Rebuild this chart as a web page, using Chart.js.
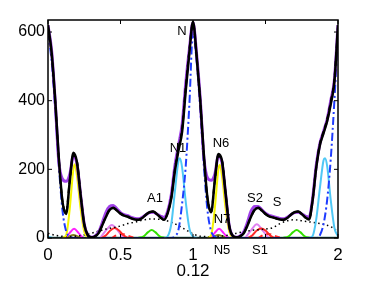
<!DOCTYPE html>
<html>
<head>
<meta charset="utf-8">
<script src="https://cdn.jsdelivr.net/npm/chart.js@4/dist/chart.umd.min.js"></script>
<style>
  html, body { margin: 0; padding: 0; background: #fff; }
  #wrap { width: 374px; height: 281px; }
</style>
</head>
<body>
<div id="wrap"><canvas id="chart" width="374" height="281"></canvas></div>
<script>
// shared x grid for the big curves
const xGrid = [0, 0.025, 0.05, 0.075, 0.1, 0.125, 0.15, 0.175, 0.2, 0.225,
  0.25, 0.275, 0.3, 0.325, 0.35, 0.375, 0.4, 0.425, 0.45, 0.475,
  0.5, 0.525, 0.55, 0.575, 0.6, 0.625, 0.65, 0.675, 0.7, 0.725,
  0.75, 0.775, 0.8, 0.825, 0.85, 0.875, 0.9, 0.925, 0.95, 0.975,
  1, 1.025, 1.05, 1.075, 1.1, 1.125, 1.15, 1.175, 1.2, 1.225,
  1.25, 1.275, 1.3, 1.325, 1.35, 1.375, 1.4, 1.425, 1.45, 1.475,
  1.5, 1.525, 1.55, 1.575, 1.6, 1.625, 1.65, 1.675, 1.7, 1.725,
  1.75, 1.775, 1.8, 1.825, 1.85, 1.875, 1.9, 1.925, 1.95, 1.975, 2];

const totalY = [620, 540, 400, 230, 105, 70, 165, 248, 220, 125,
  40, 8, 2, 5, 15, 38, 62, 82, 88, 80,
  71, 65, 62, 57, 54, 53, 58, 68, 75, 77,
  70, 60, 53, 72, 115, 195, 255, 310, 430, 540,
  630, 530, 400, 240, 115, 75, 165, 245, 225, 130,
  35, 6, 2, 5, 14, 36, 62, 82, 88, 80,
  70, 63, 60, 57, 54, 53, 58, 68, 75, 77,
  70, 60, 54, 110, 205, 270, 305, 340, 390, 455, 620];

const fitY = [615, 535, 395, 228, 108, 74, 168, 240, 222, 126,
  40, 8, 2, 5, 15, 38, 63, 83, 87, 80,
  71, 65, 62, 57, 54, 53, 58, 68, 75, 77,
  70, 60, 54, 73, 118, 200, 262, 318, 440, 548,
  625, 528, 398, 238, 116, 76, 166, 238, 226, 130,
  35, 6, 2, 5, 14, 36, 62, 82, 87, 80,
  70, 63, 60, 57, 54, 53, 58, 68, 75, 77,
  70, 60, 55, 112, 208, 274, 310, 346, 398, 462, 615];

const purpleY = [620, 545, 395, 220, 172, 165, 185, 238, 215, 125,
  40, 8, 2, 6, 18, 45, 75, 92, 95, 85,
  74, 68, 65, 60, 57, 56, 60, 68, 74, 75,
  70, 64, 60, 78, 125, 210, 270, 330, 450, 550,
  628, 535, 405, 235, 175, 168, 185, 238, 220, 128,
  35, 6, 2, 6, 18, 45, 78, 92, 92, 82,
  72, 66, 63, 60, 57, 56, 60, 68, 74, 75,
  70, 64, 60, 115, 212, 275, 310, 345, 400, 460, 620];

const blueY = [600, 515, 375, 210, 80, 20, 4, 0, 0, 0,
  0, 0, 0, 0, 0, 0, 0, 0, 0, 0,
  0, 0, 0, 0, 0, 0, 0, 0, 0, 0,
  0, 0, 0, 0, 0, 5, 25, 100, 210, 390,
  600, 515, 375, 210, 80, 20, 4, 0, 0, 0,
  0, 0, 0, 0, 0, 0, 0, 0, 0, 0,
  0, 0, 0, 0, 0, 0, 0, 0, 0, 0,
  0, 0, 0, 0, 0, 8, 40, 110, 230, 400, 600];

const dotX = [0, 0.05, 0.1, 0.15, 0.2, 0.25, 0.3, 0.35, 0.4, 0.45, 0.5, 0.55, 0.6, 0.65, 0.7,
  0.75, 0.8, 0.85, 0.9, 0.95, 1, 1.05, 1.1, 1.15, 1.2, 1.25, 1.3, 1.35, 1.4, 1.45, 1.5,
  1.55, 1.6, 1.65, 1.7, 1.75, 1.8, 1.85, 1.9, 1.95, 2];
const dotY = [14, 8, 5, 4, 6, 9, 14, 20, 26, 30, 35, 42, 46, 52, 55,
  55, 52, 46, 36, 24, 12, 5, 4, 4, 6, 9, 14, 18, 22, 24, 26,
  30, 42, 50, 53, 50, 47, 44, 40, 33, 18];

const yellowX = [0.1, 0.125, 0.15, 0.175, 0.185, 0.2, 0.225, 0.25, 0.275, 0.7,
  1.1, 1.125, 1.15, 1.175, 1.185, 1.2, 1.225, 1.25, 1.275];
const yellowY = [0, 8, 85, 200, 215, 180, 85, 18, 0, null,
  0, 8, 85, 200, 213, 180, 85, 18, 0];

const cyanX = [0, 0.03, 0.4, 0.8, 0.825, 0.85, 0.875, 0.9, 0.91, 0.925, 0.95, 0.975, 1, 1.03, 1.4,
  1.8, 1.825, 1.85, 1.875, 1.9, 1.91, 1.925, 1.95, 1.975, 2];
const cyanY = [4, 0, null, 0, 5, 40, 135, 225, 232, 205, 105, 28, 4, 0, null,
  0, 6, 55, 145, 226, 232, 210, 110, 30, 5];

const greenX = [0.62, 0.66, 0.69, 0.715, 0.74, 0.77, 0.81, 1.2, 1.62, 1.66, 1.69, 1.715, 1.74, 1.77, 1.81];
const greenY = [0, 5, 17, 23, 17, 5, 0, null, 0, 5, 17, 23, 17, 5, 0];

const oliveX = [0.1, 0.14, 0.175, 0.21, 0.25, 0.7, 1.1, 1.14, 1.175, 1.21, 1.25];
const oliveY = [0, 4, 9, 4, 0, null, 0, 4, 9, 4, 0];

const redX = [0.37, 0.4, 0.43, 0.46, 0.49, 0.52, 0.55, 1, 1.38, 1.41, 1.44, 1.47, 1.5, 1.53, 1.56];
const redY = [0, 8, 22, 29, 22, 8, 0, null, 0, 8, 22, 28, 22, 8, 0];

const redDashX = [0.44, 0.48, 0.51, 0.55, 0.59, 1, 1.45, 1.49, 1.52, 1.56, 1.6];
const redDashY = [0, 10, 12, 7, 1, null, 0, 10, 12, 7, 1];

const pinkX = [0.12, 0.15, 0.18, 0.21, 0.24, 0.7, 1.12, 1.15, 1.18, 1.21, 1.24];
const pinkY = [0, 15, 27, 15, 0, null, 0, 15, 27, 15, 0];

const violetX = [0.36, 0.4, 0.44, 0.48, 0.52, 1, 1.36, 1.4, 1.44, 1.48, 1.52];
const violetY = [0, 22, 38, 22, 0, null, 0, 22, 40, 22, 0];

const baseX = [0, 2];
const baseY = [1, 1];

const xTicks = [0, 0.5, 1, 1.5, 2];
const xTickLabels = ["0", "0.5", "1", "", "2"];
const yTicks = [0, 200, 400, 600];

const peakLabels = [
  { text: "N", x: 182, y: 31 },
  { text: "N1", x: 178, y: 148 },
  { text: "N6", x: 221, y: 143 },
  { text: "A1", x: 155, y: 198 },
  { text: "N7", x: 222, y: 219 },
  { text: "N5", x: 222, y: 250 },
  { text: "S2", x: 255, y: 198 },
  { text: "S", x: 277, y: 202 },
  { text: "S1", x: 260, y: 250 }
];

const FONT = "'Liberation Sans', Arial, sans-serif";

function pts(xs, ys) {
  return xs.map((x, i) => ({ x: x, y: ys[i] }));
}

function line(data, color, width, dash) {
  return {
    data: data,
    borderColor: color,
    borderWidth: width,
    borderDash: dash || [],
    pointRadius: 0,
    fill: false,
    cubicInterpolationMode: "monotone",
    spanGaps: false
  };
}

const boxPlugin = {
  id: "box",
  afterDraw(chart) {
    const ctx = chart.ctx;
    const a = chart.chartArea;
    const xs = chart.scales.x;
    const ys = chart.scales.y;
    ctx.save();
    ctx.strokeStyle = "#000";
    ctx.lineWidth = 1.5;
    ctx.strokeRect(a.left, a.top, a.right - a.left, a.bottom - a.top);
    ctx.lineWidth = 1;
    xTicks.forEach(function (v) {
      const px = xs.getPixelForValue(v);
      ctx.beginPath();
      ctx.moveTo(px, a.bottom); ctx.lineTo(px, a.bottom - 4);
      ctx.moveTo(px, a.top); ctx.lineTo(px, a.top + 4);
      ctx.stroke();
    });
    yTicks.forEach(function (v) {
      const py = ys.getPixelForValue(v);
      ctx.beginPath();
      ctx.moveTo(a.left, py); ctx.lineTo(a.left + 4, py);
      ctx.moveTo(a.right, py); ctx.lineTo(a.right - 4, py);
      ctx.stroke();
    });
    ctx.fillStyle = "#000";
    ctx.textAlign = "center";
    ctx.textBaseline = "middle";
    ctx.font = "13px " + FONT;
    peakLabels.forEach(function (l) {
      ctx.fillText(l.text, l.x, l.y);
    });
    ctx.font = "17px " + FONT;
    ctx.fillText("0.12", 193, 271);
    ctx.restore();
  }
};

new Chart(document.getElementById("chart").getContext("2d"), {
  type: "line",
  data: {
    datasets: [
      line(pts(xGrid, fitY), "#000", 2, [5, 4]),
      line(pts(xGrid, totalY), "#000", 2.5),
      line(pts(xGrid, purpleY), "#a040e8", 3),
      line(pts(xGrid, blueY), "#1f3cff", 2, [8, 3, 2, 3]),
      line(pts(cyanX, cyanY), "#4fc8f5", 2),
      line(pts(yellowX, yellowY), "#f5f500", 2),
      line(pts(dotX, dotY), "#000", 1.5, [1.5, 3]),
      line(pts(redX, redY), "#ff2a2a", 2),
      line(pts(redDashX, redDashY), "#ff2a2a", 2, [5, 4]),
      line(pts(greenX, greenY), "#33e000", 2),
      line(pts(pinkX, pinkY), "#ff20ff", 2),
      line(pts(violetX, violetY), "#e080f0", 2),
      line(pts(oliveX, oliveY), "#8a7f20", 2),
      line(pts(baseX, baseY), "#2f6f6a", 2)
    ]
  },
  options: {
    responsive: false,
    animation: false,
    events: [],
    layout: { padding: { left: 0, right: 36, top: 20, bottom: 0 } },
    plugins: {
      legend: { display: false },
      tooltip: { enabled: false }
    },
    scales: {
      x: {
        type: "linear",
        min: 0,
        max: 2,
        grid: { display: false, drawTicks: false },
        border: { display: false },
        afterFit: function (s) { s.height = 43; },
        afterBuildTicks: function (s) { s.ticks = xTicks.map(v => ({ value: v })); },
        ticks: {
          maxRotation: 0,
          autoSkip: false,
          padding: 7,
          color: "#000",
          font: { family: FONT, size: 17 },
          callback: function (v, i) { return xTickLabels[i]; }
        }
      },
      y: {
        min: 0,
        max: 635,
        grid: { display: false, drawTicks: false },
        border: { display: false },
        afterFit: function (s) { s.width = 48; },
        afterBuildTicks: function (s) { s.ticks = yTicks.map(v => ({ value: v })); },
        ticks: {
          padding: 3,
          color: "#000",
          font: { family: FONT, size: 16 }
        }
      }
    }
  },
  plugins: [boxPlugin]
});
</script>
</body>
</html>
